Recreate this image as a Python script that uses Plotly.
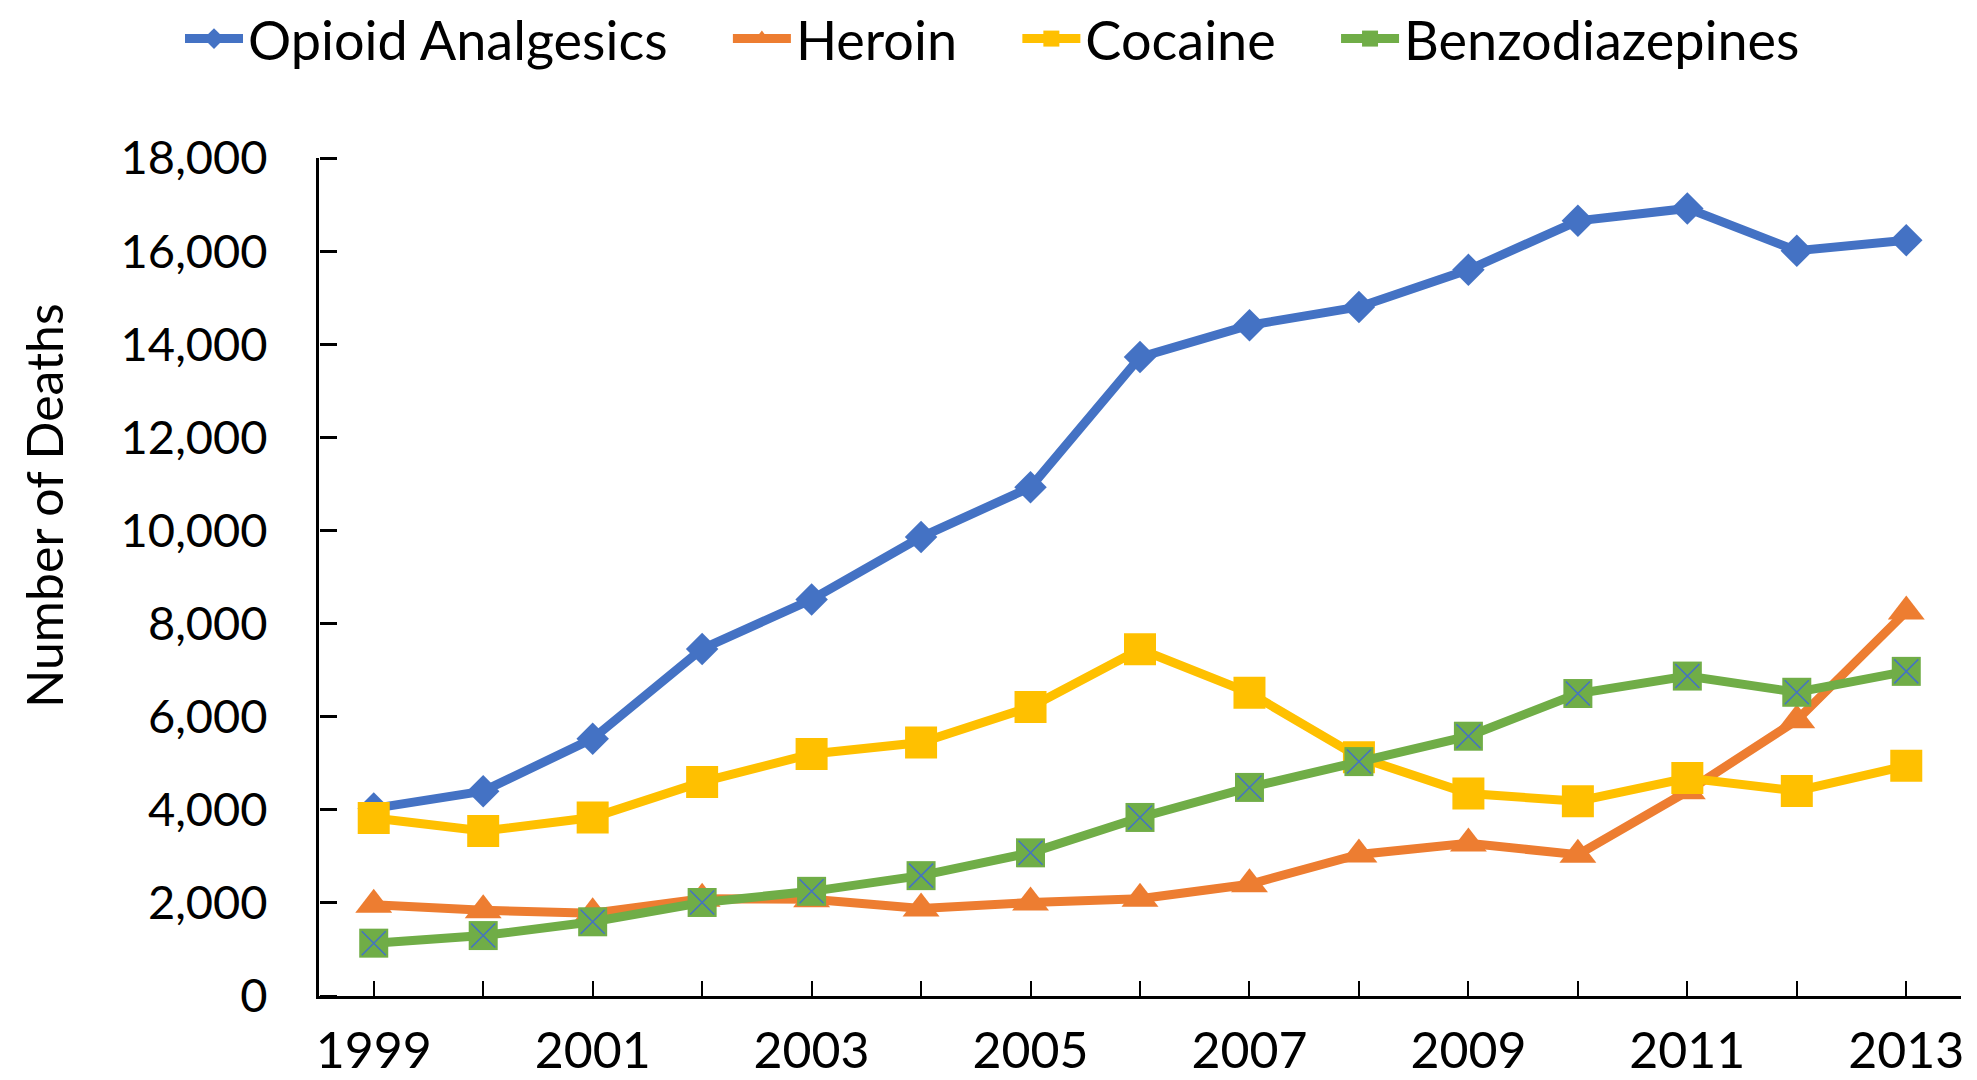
import plotly.graph_objects as go

years = list(range(1999, 2014))
opioid = [4030, 4400, 5528, 7456, 8517, 9857, 10928, 13723, 14408, 14800, 15597, 16651, 16917, 16007, 16235]
heroin = [1960, 1842, 1779, 2089, 2080, 1878, 2009, 2088, 2399, 3041, 3278, 3036, 4397, 5925, 8257]
cocaine = [3822, 3544, 3833, 4599, 5199, 5443, 6208, 7448, 6512, 5129, 4350, 4183, 4681, 4404, 4944]
benzo = [1135, 1298, 1594, 2009, 2248, 2585, 3075, 3835, 4480, 5035, 5580, 6497, 6872, 6524, 6973]

x_ticks = [1998.5] + years + [2013.5]
tick_text = [""] + [str(y) if y % 2 == 1 else "" for y in years] + [""]
y_ticks = list(range(0, 18001, 2000))

font_family = "Lato, Liberation Sans, sans-serif"
pad = "\u00a0" * 4

fig = go.Figure()

fig.add_trace(go.Scatter(
    x=years, y=opioid, name="Opioid Analgesics" + pad, mode="lines+markers",
    line=dict(color="#4472C4", width=9),
    marker=dict(symbol="diamond", size=25, color="#4472C4")
))
fig.add_trace(go.Scatter(
    x=years, y=heroin, name="Heroin" + pad, mode="lines+markers",
    line=dict(color="#ED7D31", width=9),
    marker=dict(symbol="triangle-up", size=32, color="#ED7D31")
))
fig.add_trace(go.Scatter(
    x=years, y=cocaine, name="Cocaine" + pad, mode="lines+markers",
    line=dict(color="#FFC000", width=9),
    marker=dict(symbol="square", size=32, color="#FFC000")
))
fig.add_trace(go.Scatter(
    x=years, y=benzo, name="Benzodiazepines", mode="lines+markers",
    line=dict(color="#70AD47", width=9),
    marker=dict(symbol="square", size=29, color="#70AD47")
))
# thin blue cross over the benzodiazepine squares; it sits on the tick-only axis y2
fig.add_trace(go.Scatter(
    x=years, y=benzo, mode="markers", showlegend=False, hoverinfo="skip",
    yaxis="y2",
    marker=dict(symbol="x-thin", size=24, line=dict(color="#4472C4", width=1.5))
))

fig.add_annotation(
    text="Number of Deaths", textangle=-90, showarrow=False,
    xref="paper", yref="paper", x=-0.1675, y=0.585,
    xanchor="center", yanchor="middle",
    font=dict(size=50, family=font_family, color="#000000"),
)

# page body adds an 8px offset, so the figure is sized to fit inside 1977x1080
fig.update_layout(
    width=1969, height=1072,
    paper_bgcolor="white", plot_bgcolor="white",
    margin=dict(l=311, r=16, t=150, b=84),
    font=dict(family=font_family, color="#000000"),
    legend=dict(
        orientation="h", xref="container", yref="container",
        x=0.5, xanchor="center", y=0.9711, yanchor="middle",
        font=dict(size=54, family=font_family, color="#000000"),
        itemwidth=58, tracegroupgap=0,
    ),
    xaxis=dict(
        range=[1998.5, 2013.5],
        tickvals=x_ticks, ticktext=tick_text,
        ticks="inside", ticklen=15, tickwidth=2, tickcolor="#000000",
        showline=True, linecolor="#000000", linewidth=3,
        showgrid=False, zeroline=False, automargin=False,
        tickfont=dict(size=50, family=font_family, color="#000000"),
        ticklabelstandoff=9,
    ),
    yaxis=dict(
        range=[0, 18000],
        tickvals=y_ticks, tickformat=",d", ticks="",
        showline=True, linecolor="#000000", linewidth=3,
        showgrid=False, zeroline=False, automargin=False,
        tickfont=dict(size=47, family=font_family, color="#000000"),
        ticklabelstandoff=39,
    ),
    # tick marks only, pointing into the plot from the left axis
    yaxis2=dict(
        overlaying="y", side="right", anchor="free", position=0,
        range=[0, 18000], tickvals=y_ticks,
        ticks="outside", ticklen=17, tickwidth=2.5, tickcolor="#000000",
        showticklabels=False, showline=False, showgrid=False,
        zeroline=False, automargin=False,
    ),
)

fig.write_html("out.html")
